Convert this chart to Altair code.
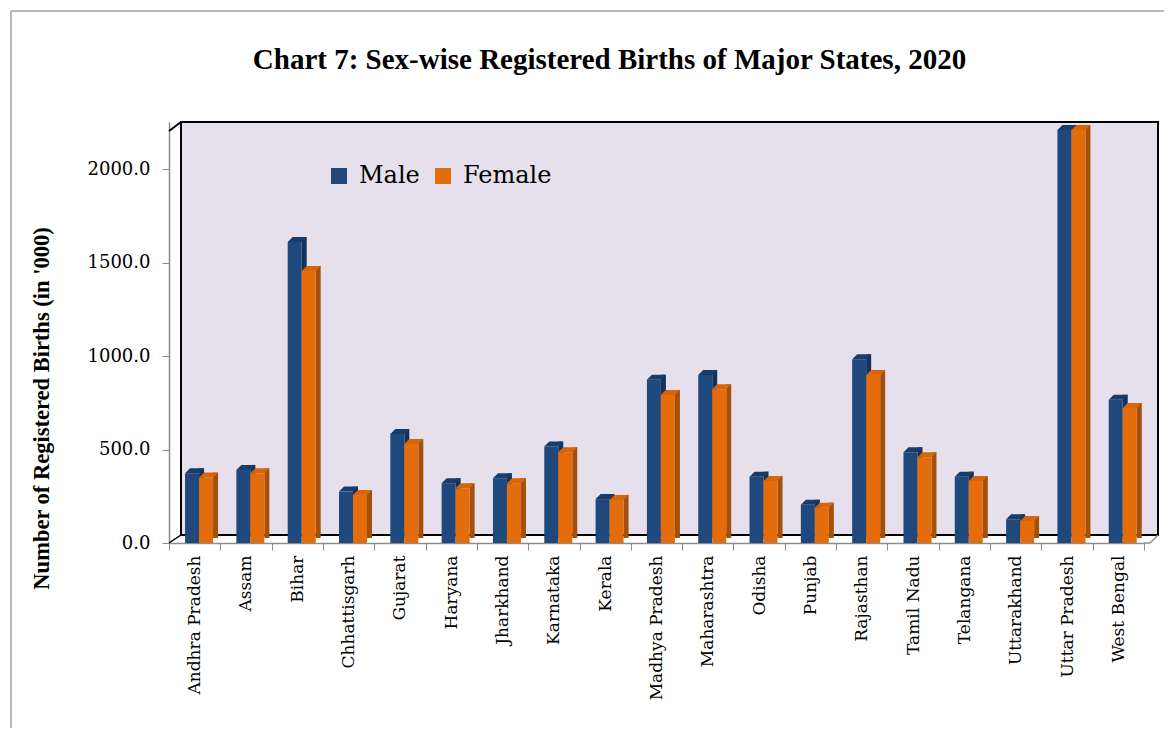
import altair as alt
import pandas as pd

states = ["Andhra Pradesh", "Assam", "Bihar", "Chhattisgarh", "Gujarat", "Haryana",
          "Jharkhand", "Karnataka", "Kerala", "Madhya Pradesh", "Maharashtra", "Odisha",
          "Punjab", "Rajasthan", "Tamil Nadu", "Telangana", "Uttarakhand",
          "Uttar Pradesh", "West Bengal"]
male = [373, 391, 1611, 275, 583, 320, 346, 516, 235, 873, 899, 355, 205, 983, 485, 355, 127, 2210, 766]
female = [350, 373, 1456, 257, 530, 293, 320, 485, 230, 792, 823, 332, 189, 899, 459, 332, 118, 2210, 723]
sexes = ["Male", "Female"]
front_colors = ["#1F497D", "#E46C0A"]
top_colors = ["#193C69", "#D9650A"]
side_colors = ["#15325A", "#A3500B"]
y_ticks = [0, 500, 1000, 1500, 2000]

rows = []
for s, m, f in zip(states, male, female):
    rows.append({"state": s, "sex": "Male", "value": m})
    rows.append({"state": s, "sex": "Female", "value": f})
df = pd.DataFrame(rows)

W, H = 975, 421
YMAX = 2253
SERIF = "DejaVu Serif"
BW = 14        # bar front width (px)
DX, DY = 5, 5  # 3D depth (px)

x_enc = alt.X("state:N", sort=states, title=None,
              scale=alt.Scale(paddingInner=0, paddingOuter=0),
              axis=alt.Axis(labelAngle=-90, labelFont=SERIF, labelFontSize=17,
                            labelColor="#000000", labelPadding=5, tickBand="extent",
                            tickSize=7, tickColor="#8C8C8C", domainColor="#8C8C8C",
                            domainWidth=1.5, labelLimit=300))
y_enc = alt.Y("value:Q", title="Number of Registered Births (in '000)",
              scale=alt.Scale(domain=[0, YMAX], nice=False),
              axis=alt.Axis(values=y_ticks, format=".1f", grid=False,
                            labelFont=SERIF, labelFontSize=18, labelColor="#000000",
                            labelPadding=12, tickSize=7, tickColor="#8C8C8C",
                            domainColor="#8C8C8C", domainWidth=1.5,
                            titleFont="Liberation Serif", titleFontSize=22.5,
                            titleFontWeight="bold", titleColor="#000000",
                            titleX=-128, titleY=286, titleAngle=270,
                            titleAlign="center", titleBaseline="middle"))

# top face: parallelogram drawn as a custom symbol (10 px per path unit, size=400)
u = 10.0
top_path = (f"M0,0 L{BW/u},0 L{(BW+DX)/u},{-DY/u} L{DX/u},{-DY/u} Z")

base = alt.Chart(df)
offsets = {"Male": -2.6, "Female": 11.4}

layers = []
for sex, topc, sidec in zip(sexes, top_colors, side_colors):
    sub = base.transform_filter(alt.datum.sex == sex)
    off = offsets[sex]
    side = sub.mark_bar(width=DX, xOffset=off + BW / 2 + DX / 2, yOffset=-DY,
                        color=sidec).encode(x=x_enc, y=y_enc)
    front = sub.mark_bar(width=BW, xOffset=off).encode(
        x=x_enc, y=y_enc,
        color=alt.Color("sex:N", sort=sexes,
                        scale=alt.Scale(domain=sexes, range=front_colors),
                        legend=alt.Legend(title=None, orient="none", legendX=158,
                                          legendY=42, direction="horizontal",
                                          symbolType="square", symbolSize=256,
                                          symbolStrokeWidth=0, labelFont=SERIF,
                                          labelFontSize=24, labelColor="#000000",
                                          labelOffset=8, columnPadding=11)),
    )
    top = sub.mark_point(shape=top_path, size=(2 * u) ** 2, filled=True, opacity=1,
                         strokeWidth=0, color=topc, xOffset=off - BW / 2).encode(
        x=x_enc, y=y_enc)
    layers += [side, front, top]

one = pd.DataFrame({"k": [0]})
deco = alt.Chart(one)

wall = deco.mark_rect(fill="#E6E0EC", stroke="#000000", strokeWidth=2).encode(
    x=alt.value(12), x2=alt.value(989), y=alt.value(0), y2=alt.value(413))

def line(x, y, x2, y2, color, width):
    return deco.mark_rule(color=color, strokeWidth=width).encode(
        x=alt.value(x), y=alt.value(y), x2=alt.value(x2), y2=alt.value(y2))

decor = [
    line(0, 9, 12, 0, "#000000", 2),
    line(0, H, 12, 413, "#000000", 1.5),
    line(W, H, 981, H, "#8C8C8C", 1.5),
    line(981, H, 989, 413, "#8C8C8C", 1.5),
    line(-158, -111, -158, 700, "#A0A0A0", 1.5),
    line(-158, -111, 1100, -111, "#A0A0A0", 1.5),
]

chart = alt.layer(
    wall, *decor, *layers
).properties(
    width=W, height=H,
    autosize=alt.AutoSizeParams(type="none"),
    padding={"left": 161, "top": 114, "right": 20, "bottom": 185},
    title=alt.TitleParams("Chart 7: Sex-wise Registered Births of Major States, 2020",
                          font="Liberation Serif", fontSize=29, fontWeight="bold",
                          color="#000000", anchor="middle", frame="group",
                          dx=-47, dy=88, offset=0, baseline="alphabetic"),
).configure_view(stroke=None)

chart.save("out.html", embed_options={"renderer": "svg", "actions": False})
